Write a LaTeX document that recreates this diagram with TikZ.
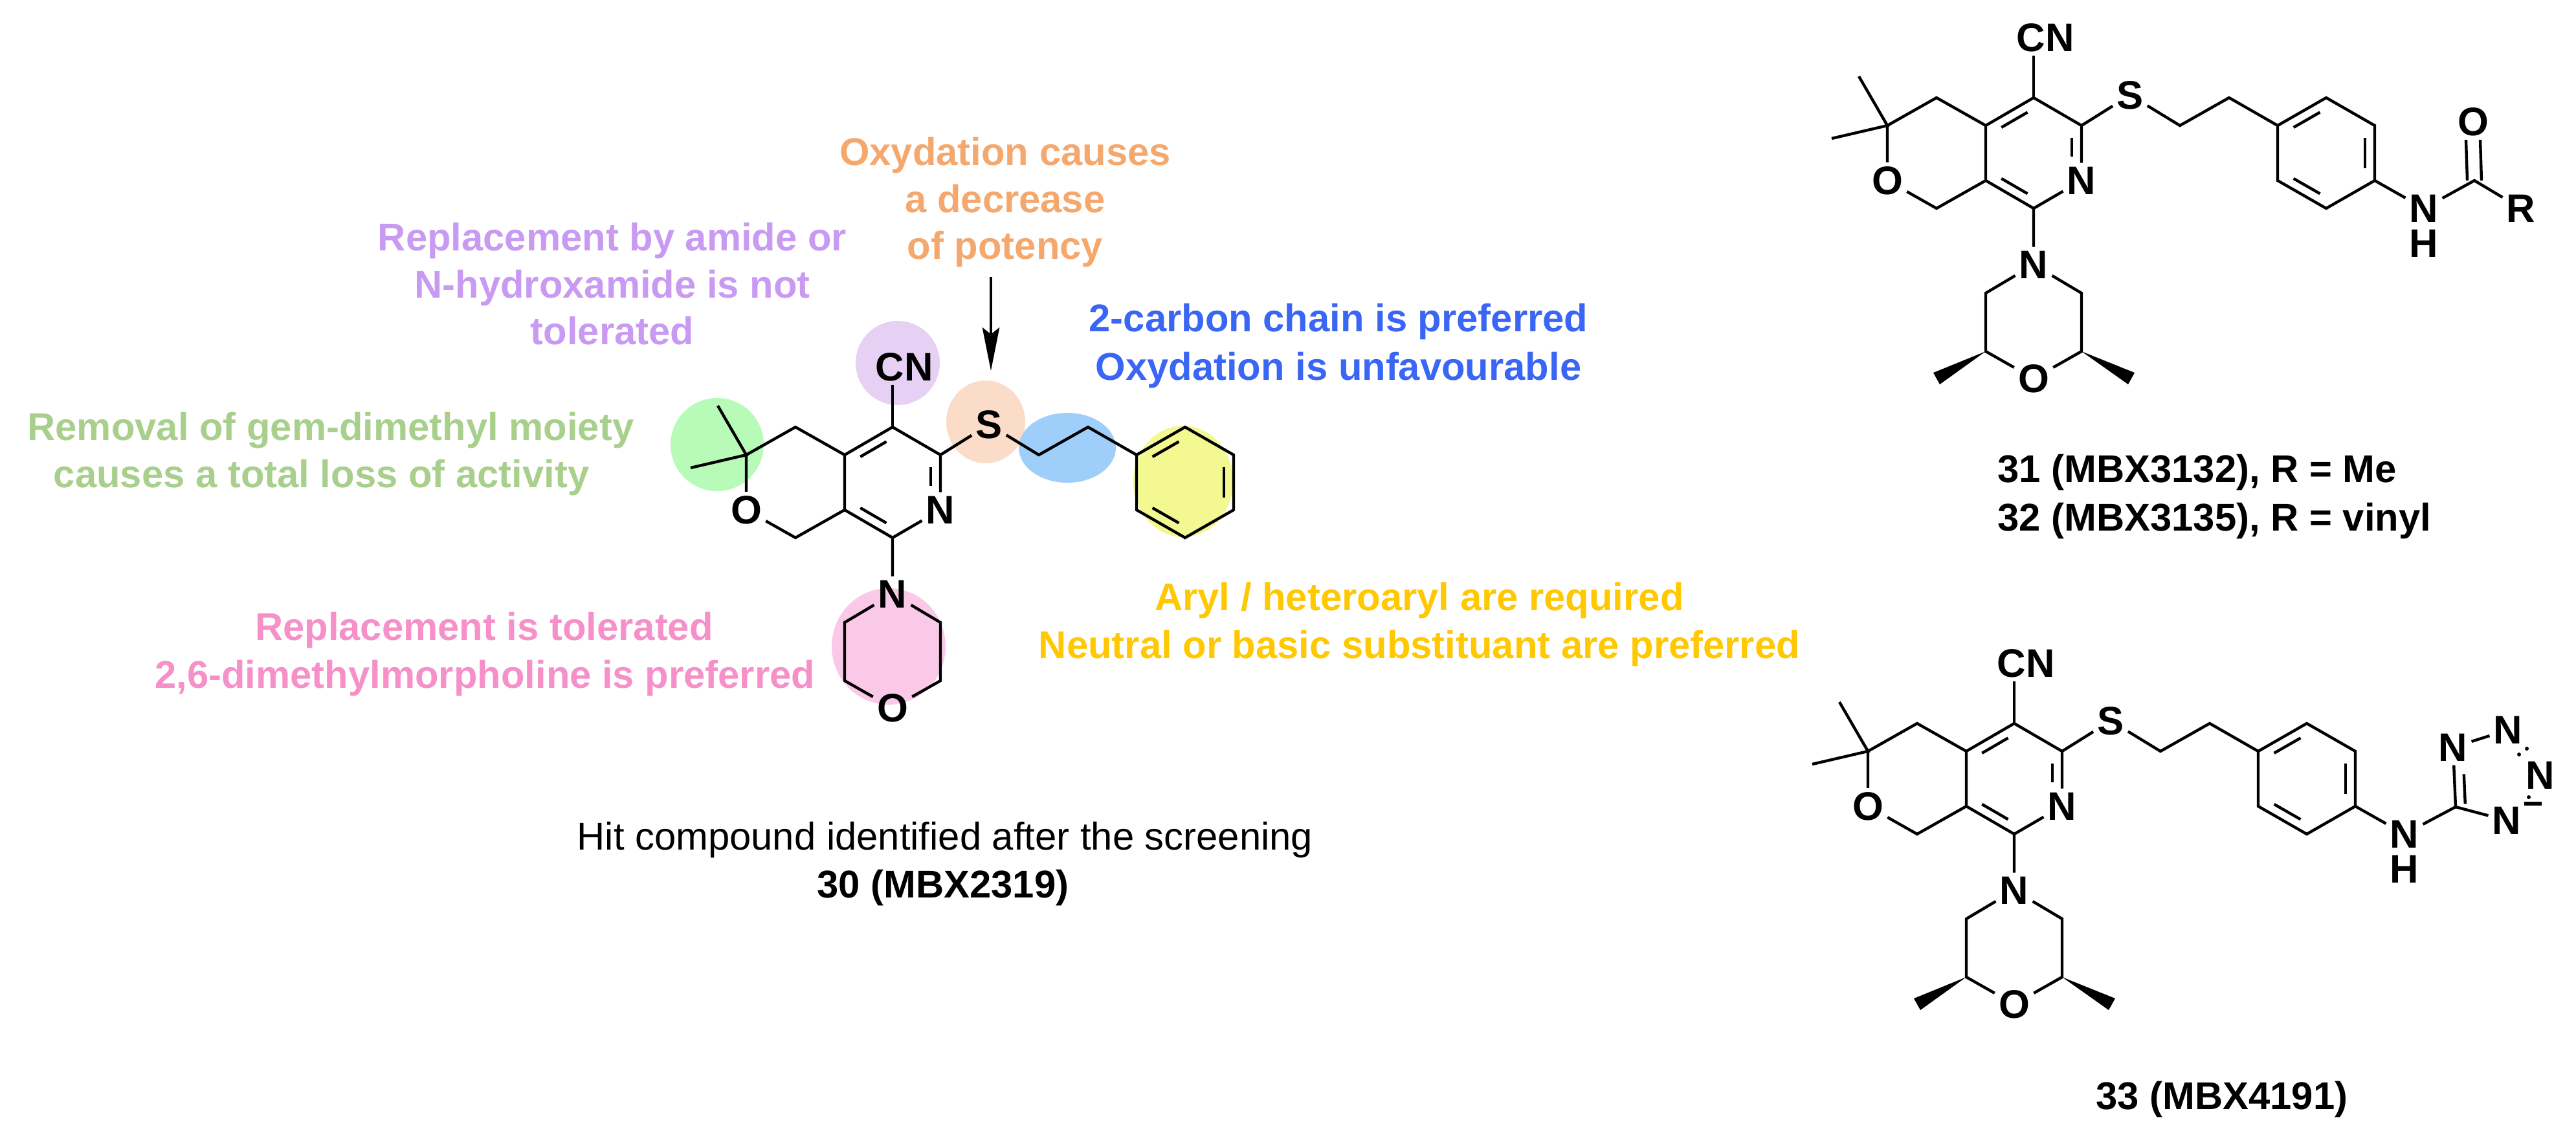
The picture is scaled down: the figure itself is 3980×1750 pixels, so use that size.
\documentclass[tikz,border=0pt]{standalone}
\usepackage{fontspec}
\setmainfont{Liberation Sans}
\usetikzlibrary{arrows.meta,calc}
\definecolor{txPurple}{HTML}{C99AF2}
\definecolor{txOrange}{HTML}{F5A86E}
\definecolor{txGreen}{HTML}{A8D08C}
\definecolor{txBlue}{HTML}{3A66F5}
\definecolor{txPink}{HTML}{F590C8}
\definecolor{txYellow}{HTML}{FFC800}
\definecolor{bgGreen}{HTML}{B8FBB8}
\definecolor{bgPurple}{HTML}{E6D0F4}
\definecolor{bgOrange}{HTML}{FADCC8}
\definecolor{bgBlue}{HTML}{A0CEFA}
\definecolor{bgYellow}{HTML}{F3F891}
\definecolor{bgPink}{HTML}{FBC9E8}
% inner double-bond line: #1,#2 ends, #3 ring centre, #4,#5 shortening fractions
\newcommand\ibond[5]{\draw[bond] ($ ($(#1)!#4!(#2)$)!0.2!(#3) $) -- ($ ($(#2)!#5!(#1)$)!0.2!(#3) $);}
\newcommand\mbxcore[1]{%
  \coordinate (#1C4) at (3142,151);
  \coordinate (#1C4a) at (3068,194);
  \coordinate (#1C8a) at (3068,279);
  \coordinate (#1C8) at (3142,322);
  \node[atom] (#1N) at (3216,279) {N};
  \coordinate (#1C3) at (3216,194);
  \coordinate (#1PC) at (3142,236);
  \node[atom] (#1S) at (3291,147) {S};
  \coordinate (#1Ca) at (3368,194);
  \coordinate (#1Cb) at (3444,151);
  \coordinate (#1C5) at (2992,151);
  \coordinate (#1Cg) at (2916,194);
  \node[atom] (#1O) at (2916,279) {O};
  \coordinate (#1C1) at (2992,322);
  \coordinate (#1Me1) at (2872,118);
  \coordinate (#1Me2) at (2830,214);
  \node[atom] (#1CN) at (3160,58) {CN};
  \node[atom] (#1mN) at (3142,409) {N};
  \coordinate (#1mL1) at (3068,453);
  \coordinate (#1mL2) at (3068,543);
  \node[atom] (#1mO) at (3142,585) {O};
  \coordinate (#1mR1) at (3216,453);
  \coordinate (#1mR2) at (3216,543);
  \coordinate (#1Ri) at (3519,194);
  \coordinate (#1Rt) at (3594,151);
  \coordinate (#1Rr) at (3669,194);
  \coordinate (#1Rs) at (3669,279);
  \coordinate (#1Rb) at (3594,322);
  \coordinate (#1Rl) at (3519,279);
  \coordinate (#1RC) at (3594,236);
  \draw[bond] (#1Me1) -- (#1Cg) -- (#1Me2);
  \draw[bond] (#1Cg) -- (#1C5) -- (#1C4a) -- (#1C4) -- (#1C3) -- (#1N) -- (#1C8) -- (#1C8a) -- (#1C4a);
  \draw[bond] (#1Cg) -- (#1O) -- (#1C1) -- (#1C8a);
  \draw[bond] (#1C4) -- (#1CN.south -| #1C4);
  \draw[bond] (#1C3) -- (#1S) -- (#1Ca) -- (#1Cb) -- (#1Ri);
  \draw[bond] (#1Ri) -- (#1Rt) -- (#1Rr) -- (#1Rs) -- (#1Rb) -- (#1Rl) -- cycle;
  \draw[bond] (#1C8) -- (#1mN) -- (#1mL1) -- (#1mL2) -- (#1mO) -- (#1mR2) -- (#1mR1) -- (#1mN);
  \ibond{#1C4a}{#1C4}{#1PC}{0.16}{0.16}
  \ibond{#1C8a}{#1C8}{#1PC}{0.16}{0.16}
  \ibond{#1C3}{#1N}{#1PC}{0.16}{0.42}
  \ibond{#1Ri}{#1Rt}{#1RC}{0.16}{0.16}
  \ibond{#1Rr}{#1Rs}{#1RC}{0.16}{0.16}
  \ibond{#1Rl}{#1Rb}{#1RC}{0.16}{0.16}
}
\newcommand\mbxextra[1]{%
  \coordinate (#1W1) at (2992,585);
  \coordinate (#1W2) at (3293,585);
  \fill (#1mL2) -- ($(#1W1)+(5,9)$) -- ($(#1W1)+(-5,-9)$) -- cycle;
  \fill (#1mR2) -- ($(#1W2)+(-5,9)$) -- ($(#1W2)+(5,-9)$) -- cycle;
  \node[atom] (#1NH) at (3745,322) {N};
  \node[atom] (#1H) at (3745,376) {H};
  \draw[bond] (#1Rs) -- (#1NH);
}
\begin{document}
\begin{tikzpicture}[x=0.01cm,y=-0.01cm,
  bond/.style={line width=1.25pt},
  atom/.style={font=\fontsize{17.5}{19}\selectfont\bfseries, inner sep=1.8pt, outer sep=0pt},
  lab/.style={font=\fontsize{17}{20}\selectfont\bfseries, inner sep=0pt, anchor=base},
  captxt/.style={font=\fontsize{17}{20}\selectfont, inner sep=0pt, anchor=base}]
\useasboundingbox (0,0) rectangle (3980,1750);
% highlight blobs
\fill[bgGreen] (1108,687) circle [radius=72];
\fill[bgPurple] (1387,561) circle [radius=65];
\fill[bgOrange] (1523,652) ellipse [x radius=61, y radius=64];
\fill[bgBlue] (1649,692) ellipse [x radius=75, y radius=54];
\fill[bgYellow] (1828,744) ellipse [x radius=77, y radius=86];
\fill[bgPink] (1373,999) ellipse [x radius=88, y radius=90];
% hit compound 30
\begin{scope}[shift={(-1763,509)}]
  \mbxcore{h}
\end{scope}
\coordinate (arrTop) at (1531,428);
\coordinate (arrEnd) at (1531,573);
\draw[line width=1.3pt, -{Stealth[length=19pt,width=7.5pt,inset=3pt]}] (arrTop) -- (arrEnd);
% compound 31/32
\mbxcore{a}
\mbxextra{a}
\coordinate (aCO) at (3823,279);
\node[atom] (aOx) at (3821,188) {O};
\node[atom] (aR) at (3895,322) {R};
\draw[bond] (aNH) -- (aCO) -- (aR);
\draw[bond] ($(aCO)+(-11,0)$) -- ($(aOx.south)+(-11,0)$);
\draw[bond] ($(aCO)+(11,0)$) -- ($(aOx.south)+(11,0)$);
% compound 33
\begin{scope}[shift={(-30,967)}]
  \mbxcore{b}
  \mbxextra{b}
\end{scope}
\coordinate (bTC) at (3794,1247);
\node[atom] (bT1) at (3790,1155) {N};
\node[atom] (bT2) at (3875,1128) {N};
\node[atom] (bT3) at (3925,1198) {N};
\node[atom] (bT4) at (3873,1268) {N};
\draw[bond] (bNH) -- (bTC) -- (bT1) -- (bT2);
\draw[bond] (bTC) -- (bT4);
\draw[bond] ($(bTC)!0.05!(bT1)+(15,0)$) -- ($(bTC)!0.55!(bT1)+(15,0)$);
\fill (3892,1166) circle [radius=3];
\fill (3904,1157) circle [radius=3];
\fill (3907,1232) circle [radius=3];
\draw[line width=1.6pt] (3900,1242) -- (3927,1242);
% annotations
\node[lab, txOrange] (o1) at (1553,255) {Oxydation causes};
\node[lab, txOrange] (o2) at (1553,328) {a decrease};
\node[lab, txOrange] (o3) at (1553,400) {of potency};
\node[lab, txPurple] (p1) at (946,387) {Replacement by amide or};
\node[lab, txPurple] (p2) at (946,460) {N-hydroxamide is not};
\node[lab, txPurple] (p3) at (946,532) {tolerated};
\node[lab, txBlue] (b1) at (2068,512) {2-carbon chain is preferred};
\node[lab, txBlue] (b2) at (2068,587) {Oxydation is unfavourable};
\node[lab, txGreen, anchor=base east] (g1) at (980,680) {Removal of gem-dimethyl moiety};
\node[lab, txGreen, anchor=base east] (g2) at (911,753) {causes a total loss of activity};
\node[lab, txPink] (k1) at (748,989) {Replacement is tolerated};
\node[lab, txPink, anchor=base east] (k2) at (1260,1063) {2,6-dimethylmorpholine is preferred};
\node[lab, txYellow] (y1) at (2193,943) {Aryl / heteroaryl are required};
\node[lab, txYellow] (y2) at (2193,1017) {Neutral or basic substituant are preferred};
\node[captxt] (c1) at (1460,1313) {Hit compound identified after the screening};
\node[lab] (c2) at (1457,1387) {30 (MBX2319)};
\node[lab, anchor=base west] (c3) at (3086,745) {31 (MBX3132), R = Me};
\node[lab, anchor=base west] (c4) at (3086,820) {32 (MBX3135), R = vinyl};
\node[lab, anchor=base west] (c5) at (3238,1714) {33 (MBX4191)};
\end{tikzpicture}
\end{document}
